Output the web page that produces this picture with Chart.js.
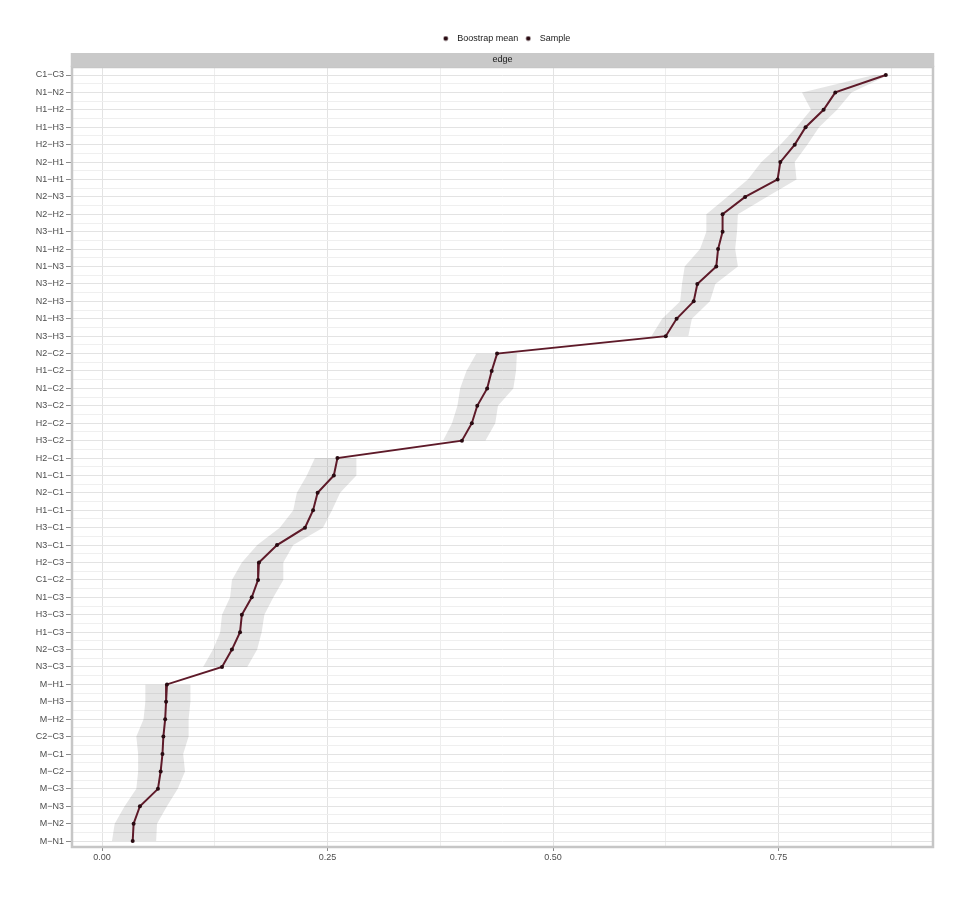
<!DOCTYPE html>
<html>
<head>
<meta charset="utf-8">
<script src="https://cdn.jsdelivr.net/npm/chart.js@4.4.1/dist/chart.umd.min.js"></script>
<style>
  html, body { margin: 0; padding: 0; background: #fff; }
  #wrap { width: 979px; height: 899px; }
</style>
</head>
<body>
<div id="wrap"><canvas id="edgeChart"></canvas></div>
<script>
// edges, top to bottom
const edgeLabels = [
  'C1−C3', 'N1−N2', 'H1−H2', 'H1−H3', 'H2−H3', 'N2−H1', 'N1−H1', 'N2−N3',
  'N2−H2', 'N3−H1', 'N1−H2', 'N1−N3', 'N3−H2', 'N2−H3', 'N1−H3', 'N3−H3',
  'N2−C2', 'H1−C2', 'N1−C2', 'N3−C2', 'H2−C2', 'H3−C2',
  'H2−C1', 'N1−C1', 'N2−C1', 'H1−C1', 'H3−C1', 'N3−C1', 'H2−C3', 'C1−C2',
  'N1−C3', 'H3−C3', 'H1−C3', 'N2−C3', 'N3−C3',
  'M−H1', 'M−H3', 'M−H2', 'C2−C3', 'M−C1', 'M−C2', 'M−C3', 'M−N3', 'M−N2', 'M−N1'
];

const meanValues = [
  0.869, 0.813, 0.800, 0.780, 0.768, 0.752, 0.749, 0.713,
  0.688, 0.688, 0.683, 0.681, 0.660, 0.656, 0.637, 0.625,
  0.438, 0.432, 0.427, 0.416, 0.410, 0.399,
  0.261, 0.257, 0.239, 0.234, 0.225, 0.194, 0.174, 0.173,
  0.166, 0.155, 0.153, 0.144, 0.133,
  0.072, 0.071, 0.070, 0.068, 0.067, 0.065, 0.062, 0.042, 0.035, 0.034
];

const lowerValues = [
  0.856, 0.776, 0.786, 0.770, 0.752, 0.731, 0.716, 0.693,
  0.670, 0.670, 0.663, 0.646, 0.643, 0.641, 0.621, 0.609,
  0.415, 0.404, 0.397, 0.394, 0.388, 0.378,
  0.236, 0.227, 0.216, 0.212, 0.197, 0.172, 0.155, 0.144,
  0.142, 0.133, 0.131, 0.123, 0.112,
  0.048, 0.048, 0.046, 0.038, 0.040, 0.040, 0.038, 0.025, 0.014, 0.011
];

const upperValues = [
  0.872, 0.831, 0.815, 0.795, 0.782, 0.768, 0.770, 0.737,
  0.705, 0.704, 0.702, 0.705, 0.680, 0.674, 0.654, 0.650,
  0.460, 0.459, 0.456, 0.439, 0.436, 0.425,
  0.282, 0.282, 0.264, 0.255, 0.245, 0.212, 0.201, 0.201,
  0.190, 0.180, 0.177, 0.172, 0.161,
  0.098, 0.098, 0.096, 0.096, 0.090, 0.092, 0.084, 0.072, 0.061, 0.060
];

// ribbon is drawn per cluster: [first row, last row]
const clusters = [[0, 15], [16, 21], [22, 34], [35, 44]];

const xTicks = [0, 0.125, 0.25, 0.375, 0.5, 0.625, 0.75, 0.875];
const legendNames = ['Boostrap mean', 'Sample'];

const lineColor = '#5e1a29';
const pointColor = '#2a0b12';
const ribbonColor = 'rgba(0,0,0,0.1)';
const font = 'Liberation Sans, Arial, Helvetica, sans-serif';

const pts = vals => vals.map((v, i) => ({ x: v, y: i }));

const datasets = [];
clusters.forEach(([a, b]) => {
  const rows = [];
  for (let i = a; i <= b; i++) rows.push(i);
  datasets.push({
    label: 'lower', order: 5,
    data: rows.map(i => ({ x: lowerValues[i], y: i })),
    borderWidth: 0, pointRadius: 0, fill: false
  });
  datasets.push({
    label: 'upper', order: 5,
    data: rows.map(i => ({ x: upperValues[i], y: i })),
    borderWidth: 0, pointRadius: 0, fill: '-1',
    backgroundColor: ribbonColor
  });
});
datasets.push({
  label: 'Boostrap mean', order: 1,
  data: pts(meanValues),
  borderColor: lineColor, borderWidth: 2, pointRadius: 0, fill: false
});
datasets.push({
  label: 'Sample', order: 0,
  data: pts(meanValues),
  showLine: false, pointRadius: 2, pointBackgroundColor: pointColor,
  pointBorderColor: pointColor, pointBorderWidth: 0, fill: false
});

const dot = document.createElement('canvas');
dot.width = 6; dot.height = 6;
const dctx = dot.getContext('2d');
dctx.fillStyle = pointColor;
dctx.beginPath(); dctx.arc(3, 3, 2.3, 0, Math.PI * 2); dctx.fill();

// grey facet strip + panel border
const panelPlugin = {
  id: 'panel',
  afterLayout(chart) {
    chart.legend.left += 38;
    chart.legend.right += 38;
  },
  afterDatasetsDraw(chart) {
    const { ctx, chartArea: ca } = chart;
    ctx.save();
    ctx.strokeStyle = '#c6c6c6';
    ctx.lineWidth = 2.5;
    ctx.strokeRect(ca.left, ca.top, ca.right - ca.left, ca.bottom - ca.top);
    ctx.fillStyle = '#c9c9c9';
    ctx.fillRect(ca.left - 1.25, ca.top - 14, ca.right - ca.left + 2.5, 14);
    ctx.fillStyle = '#1a1a1a';
    ctx.font = '9px ' + font;
    ctx.textAlign = 'center';
    ctx.textBaseline = 'middle';
    ctx.fillText('edge', (ca.left + ca.right) / 2, ca.top - 7);
    ctx.restore();
  }
};

new Chart(document.getElementById('edgeChart'), {
  type: 'line',
  data: { datasets },
  plugins: [panelPlugin],
  options: {
    indexAxis: 'y',
    responsive: true,
    maintainAspectRatio: false,
    animation: false,
    layout: { padding: { top: 31, right: 46, bottom: 0, left: 0 } },
    scales: {
      x: {
        type: 'linear', position: 'bottom',
        min: -0.0333, max: 0.9213,
        afterBuildTicks: s => { s.ticks = xTicks.map(v => ({ value: v })); },
        afterFit: s => { s.height = 52; },
        border: { display: false },
        grid: {
          color: c => (Math.abs(c.tick.value * 4 - Math.round(c.tick.value * 4)) < 1e-6 ? '#e3e3e3' : '#eeeeee'),
          tickColor: c => (Math.abs(c.tick.value * 4 - Math.round(c.tick.value * 4)) < 1e-6 ? '#8a8a8a' : 'rgba(0,0,0,0)'),
          tickLength: 4
        },
        ticks: {
          autoSkip: false, maxRotation: 0, padding: 1,
          color: '#4d4d4d', font: { family: font, size: 9 },
          callback: v => (Math.abs(v * 4 - Math.round(v * 4)) < 1e-6 ? v.toFixed(2) : '')
        }
      },
      strip: {
        type: 'linear', axis: 'x', position: 'top',
        afterFit: s => { s.height = 14; },
        grid: { display: false }, border: { display: false },
        ticks: { display: false }
      },
      y: {
        type: 'linear', position: 'left', reverse: true,
        min: -0.46, max: 44.34,
        afterBuildTicks: s => {
          const t = [];
          for (let i = 0; i <= (edgeLabels.length - 1) * 2; i++) t.push({ value: i / 2 });
          s.ticks = t;
        },
        afterFit: s => { s.width = 72; },
        border: { display: false },
        grid: {
          color: c => (Number.isInteger(c.tick.value) ? '#e3e3e3' : '#efefef'),
          tickColor: c => (Number.isInteger(c.tick.value) ? '#8a8a8a' : 'rgba(0,0,0,0)'),
          tickLength: 6
        },
        ticks: {
          autoSkip: false, padding: 2,
          color: '#4d4d4d', font: { family: font, size: 9 },
          callback: v => (Number.isInteger(v) ? edgeLabels[v] : '')
        }
      }
    },
    plugins: {
      tooltip: { enabled: false },
      legend: {
        position: 'top',
        labels: {
          usePointStyle: true,
          pointStyleWidth: 14,
          boxHeight: 6,
          padding: 3,
          color: '#1a1a1a',
          font: { family: font, size: 9 },
          generateLabels: () => legendNames.map(text => ({
            text, pointStyle: dot, fillStyle: pointColor, strokeStyle: pointColor,
            lineWidth: 0, hidden: false, fontColor: '#1a1a1a'
          }))
        }
      }
    }
  }
});
</script>
</body>
</html>
